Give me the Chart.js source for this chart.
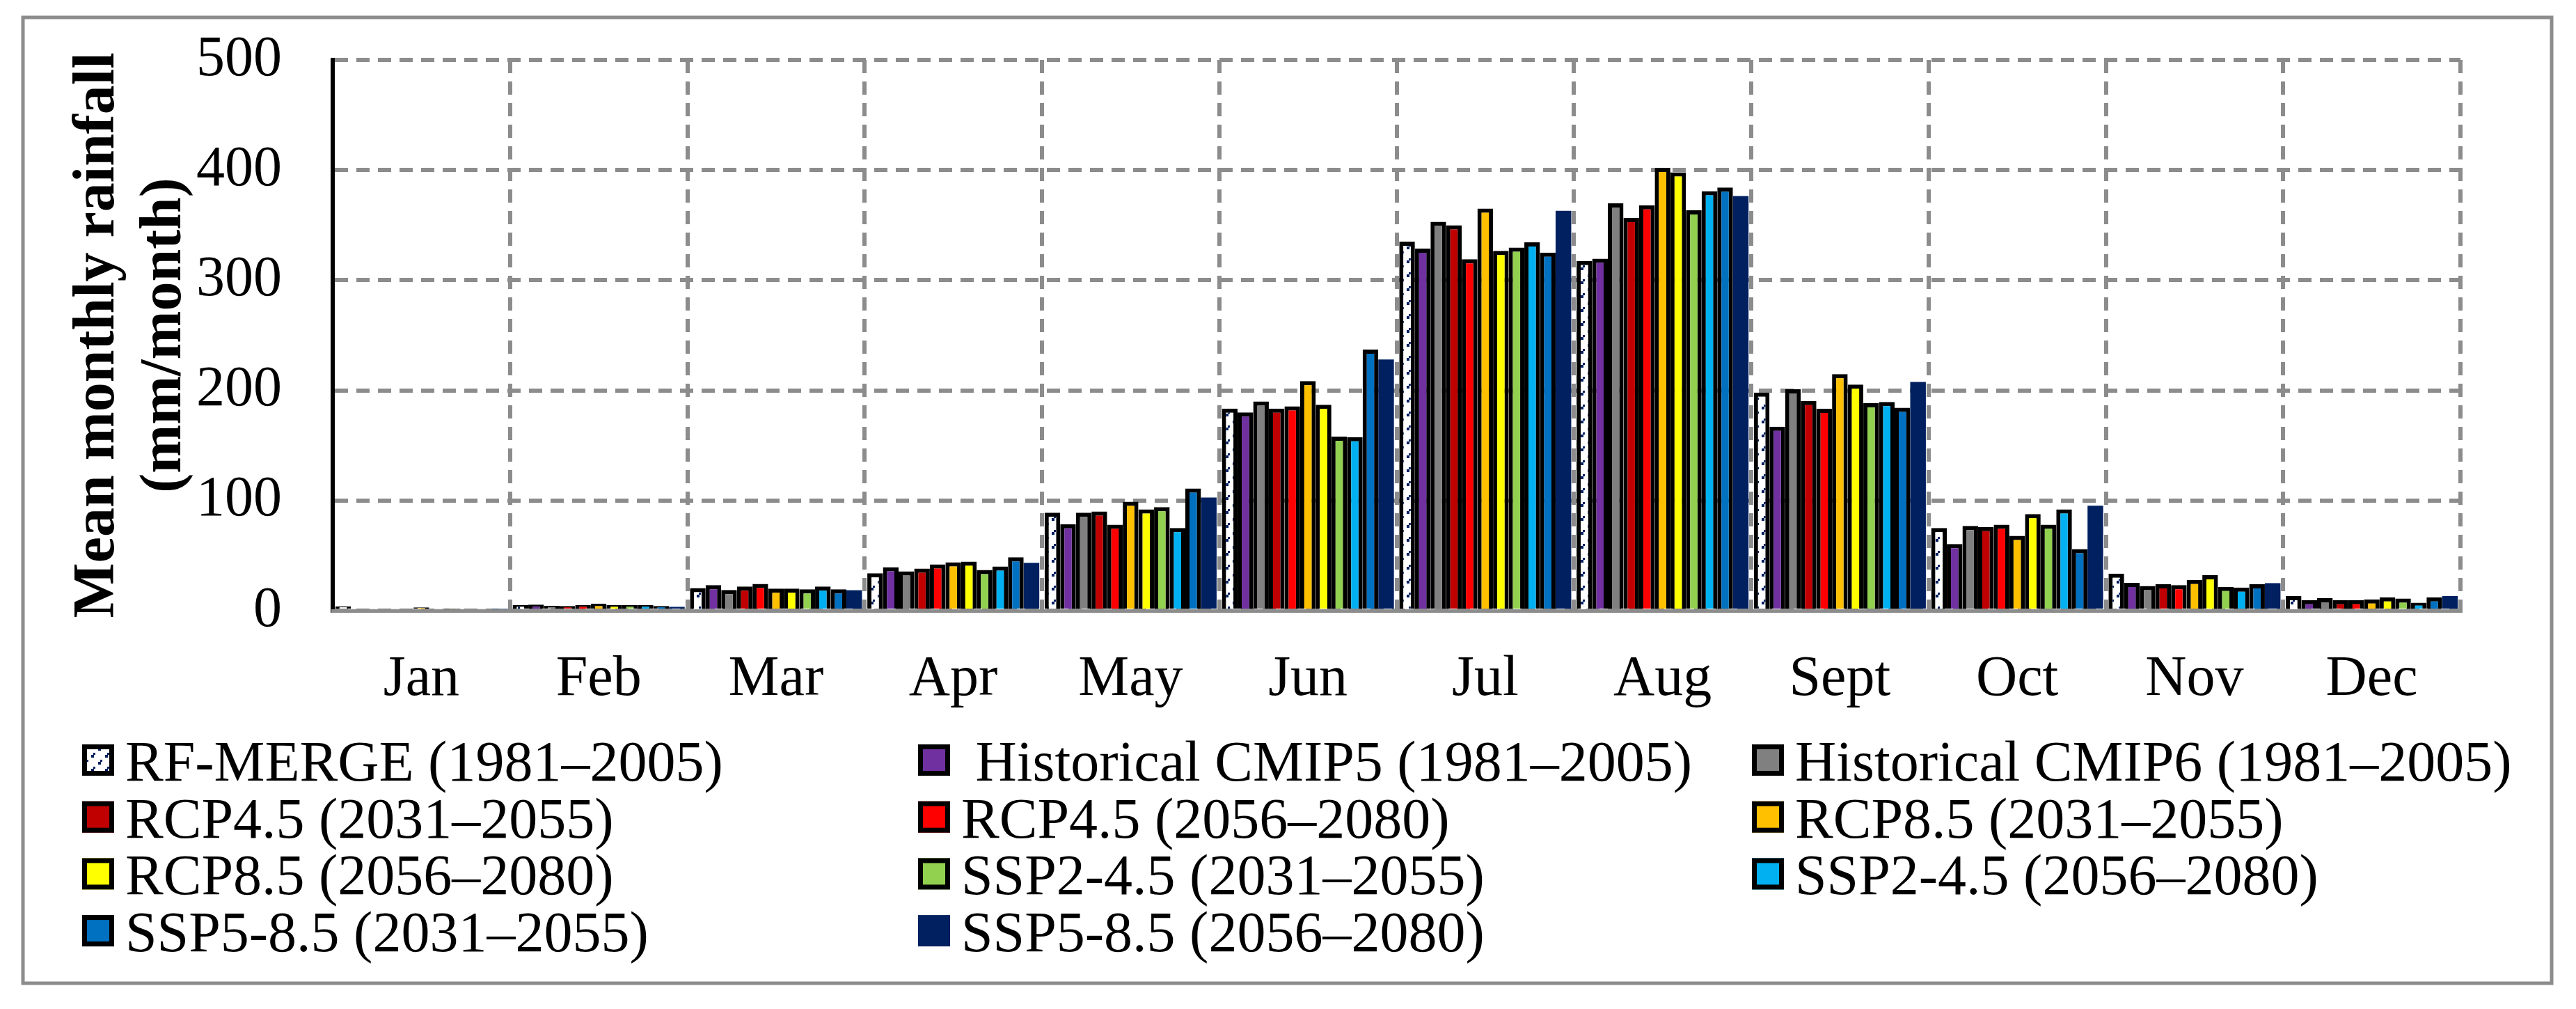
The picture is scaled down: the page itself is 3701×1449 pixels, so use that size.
<!DOCTYPE html>
<html lang="en">
<head>
    <meta charset="UTF-8">
    <title>Mean monthly rainfall</title>
    <script src="https://cdn.jsdelivr.net/npm/chart.js"></script>
    <style>
        html, body { margin: 0; padding: 0; background: #fff; }
        canvas { display: block; }
    </style>
</head>
<body>
    <canvas id="rainChart" width="3701" height="1449"></canvas>

    <script>
        // categories
        const months = ['Jan', 'Feb', 'Mar', 'Apr', 'May', 'Jun', 'Jul', 'Aug', 'Sept', 'Oct', 'Nov', 'Dec'];

        // series names, in legend order
        const seriesNames = [
            'RF-MERGE (1981\u20132005)',
            ' Historical CMIP5 (1981\u20132005)',
            'Historical CMIP6 (1981\u20132005)',
            'RCP4.5 (2031\u20132055)',
            'RCP4.5 (2056\u20132080)',
            'RCP8.5 (2031\u20132055)',
            'RCP8.5 (2056\u20132080)',
            'SSP2-4.5 (2031\u20132055)',
            'SSP2-4.5 (2056\u20132080)',
            'SSP5-8.5 (2031\u20132055)',
            'SSP5-8.5 (2056\u20132080)'
        ];

        // mean monthly rainfall (mm/month)
        const rfMerge     = [4, 5, 20.5, 34, 89, 183.5, 335, 317.5, 198, 75, 33.6, 13.3];
        const histCmip5   = [2, 5.5, 23.3, 39.5, 78.5, 180, 328.7, 319.6, 167, 60.5, 25.3, 9.7];
        const histCmip6   = [2, 4.5, 18.8, 35.7, 89, 190, 353, 369.8, 201, 77, 22.4, 11.4];
        const rcp45Near   = [2, 4.3, 22, 38.3, 90, 183.5, 349.8, 356.5, 190.4, 76, 24, 9.7];
        const rcp45Far    = [2, 5, 24.3, 42, 78, 185.5, 319, 368, 183.3, 78, 23.3, 9.7];
        const rcp85Near   = [3, 6.3, 20, 44, 99, 208.5, 365, 402, 214.7, 68, 28, 10.3];
        const rcp85Far    = [2, 5, 20, 44.6, 92, 187, 326.6, 397.9, 205.2, 87.7, 32.3, 12.2];
        const ssp245Near  = [1.5, 5, 19.5, 37, 94, 158, 329.7, 363.5, 188.3, 78, 21.7, 11];
        const ssp245Far   = [2, 5, 22, 40.2, 75, 157.5, 334.4, 380.8, 189.4, 92, 21, 7.2];
        const ssp585Near  = [2, 4.3, 19.5, 48.5, 111, 237, 325, 384.2, 184.3, 56, 24, 12.2];
        const ssp585Far   = [1.5, 3.5, 18.6, 43.5, 102.7, 228, 363, 376.4, 207.7, 95.3, 25, 13.3];

        const seriesValues = [rfMerge, histCmip5, histCmip6, rcp45Near, rcp45Far,
            rcp85Near, rcp85Far, ssp245Near, ssp245Far, ssp585Near, ssp585Far];

        const seriesColors = ['#ffffff', '#7030A0', '#808080', '#C00000', '#FF0000',
            '#FFC000', '#FFFF00', '#92D050', '#00B0F0', '#0070C0', '#002060'];

        // y axis ticks
        const yTicks = [0, 100, 200, 300, 400, 500];

        const serif = "'Liberation Serif', 'Times New Roman', serif";
        const gridGray = '#8c8c8c';
        const canvas = document.getElementById('rainChart');
        const ctx = canvas.getContext('2d');

        // white fill with small navy diagonal dashes, like the observed series
        function makeHatch() {
            const tile = document.createElement('canvas');
            tile.width = 20;
            tile.height = 20;
            const g = tile.getContext('2d');
            g.fillStyle = '#ffffff';
            g.fillRect(0, 0, 20, 20);
            g.fillStyle = '#002060';
            g.fillRect(1, 14, 4, 4);
            g.fillRect(4, 11, 3, 3);
            g.fillRect(11, 4, 4, 4);
            g.fillRect(14, 1, 3, 3);
            return ctx.createPattern(tile, 'repeat');
        }
        const hatch = makeHatch();
        const last = seriesNames.length - 1;

        // outer frame of the figure
        const frame = {
            id: 'frame',
            beforeDraw(chart) {
                const c = chart.ctx;
                c.save();
                c.fillStyle = '#fff';
                c.fillRect(0, 0, chart.width, chart.height);
                c.strokeStyle = gridGray;
                c.lineWidth = 5;
                c.strokeRect(33, 25, 3633, 1387);
                c.restore();
            }
        };

        // three-column legend under the axis
        const legendColumns = [118, 1319, 2517];
        const gridLegend = {
            id: 'gridLegend',
            afterDraw(chart) {
                const c = chart.ctx;
                const area = chart.chartArea;
                c.save();
                c.font = '82px ' + serif;
                c.textBaseline = 'alphabetic';
                chart.data.datasets.forEach((ds, i) => {
                    const col = i % 3;
                    const row = Math.floor(i / 3);
                    const x = legendColumns[col];
                    const base = area.bottom + 244 + row * 81.7;
                    const top = base - 52;
                    c.fillStyle = ds.backgroundColor;
                    c.fillRect(x, top, 46, 45);
                    if (ds.borderWidth) {
                        c.strokeStyle = '#000';
                        c.lineWidth = 7;
                        c.strokeRect(x + 3.5, top + 3.5, 39, 38);
                    }
                    c.fillStyle = '#000';
                    c.fillText(ds.label, x + 62, base);
                });
                c.restore();
            }
        };

        const datasets = seriesNames.map((name, i) => ({
            label: name,
            data: seriesValues[i],
            backgroundColor: i === 0 ? hatch : seriesColors[i],
            borderColor: '#000000',
            borderWidth: i === last ? 0 : 6,
            categoryPercentage: 0.97,
            barPercentage: 1.0
        }));

        new Chart(ctx, {
            type: 'bar',
            data: { labels: months, datasets: datasets },
            plugins: [frame, gridLegend],
            options: {
                responsive: false,
                devicePixelRatio: 1,
                animation: false,
                layout: { padding: { left: 60, right: 166, top: 86, bottom: 0 } },
                plugins: {
                    legend: { display: false },
                    tooltip: { enabled: false }
                },
                scales: {
                    x: {
                        grid: {
                            color: c => c.index === 0 ? 'rgba(0,0,0,0)' : gridGray,
                            lineWidth: 6,
                            drawTicks: false,
                            offset: true
                        },
                        border: { color: gridGray, width: 5, dash: [19, 12], z: 1 },
                        ticks: {
                            color: '#000',
                            font: { family: serif, size: 82 },
                            padding: 50,
                            maxRotation: 0,
                            autoSkip: false
                        },
                        afterFit: s => { s.height = 572; }
                    },
                    y: {
                        min: yTicks[0],
                        max: yTicks[yTicks.length - 1],
                        afterBuildTicks: s => { s.ticks = yTicks.map(v => ({ value: v })); },
                        grid: { color: gridGray, lineWidth: 6, drawTicks: false },
                        border: { color: '#000', width: 6, dash: [19, 12] },
                        ticks: {
                            color: '#000',
                            font: { family: serif, size: 82 },
                            padding: 73
                        },
                        title: {
                            display: true,
                            text: ['Mean monthly rainfall', '(mm/month)'],
                            color: '#000',
                            font: { family: serif, size: 84, weight: 'bold', lineHeight: 1.143 },
                            padding: { top: 33, bottom: 0 }
                        },
                        afterFit: s => {
                            s.width = 418;
                            // tick padding would otherwise push the plot top down
                            s.paddingTop = 49;
                            s.paddingBottom = 49;
                        }
                    }
                }
            }
        });
    </script>
</body>
</html>
